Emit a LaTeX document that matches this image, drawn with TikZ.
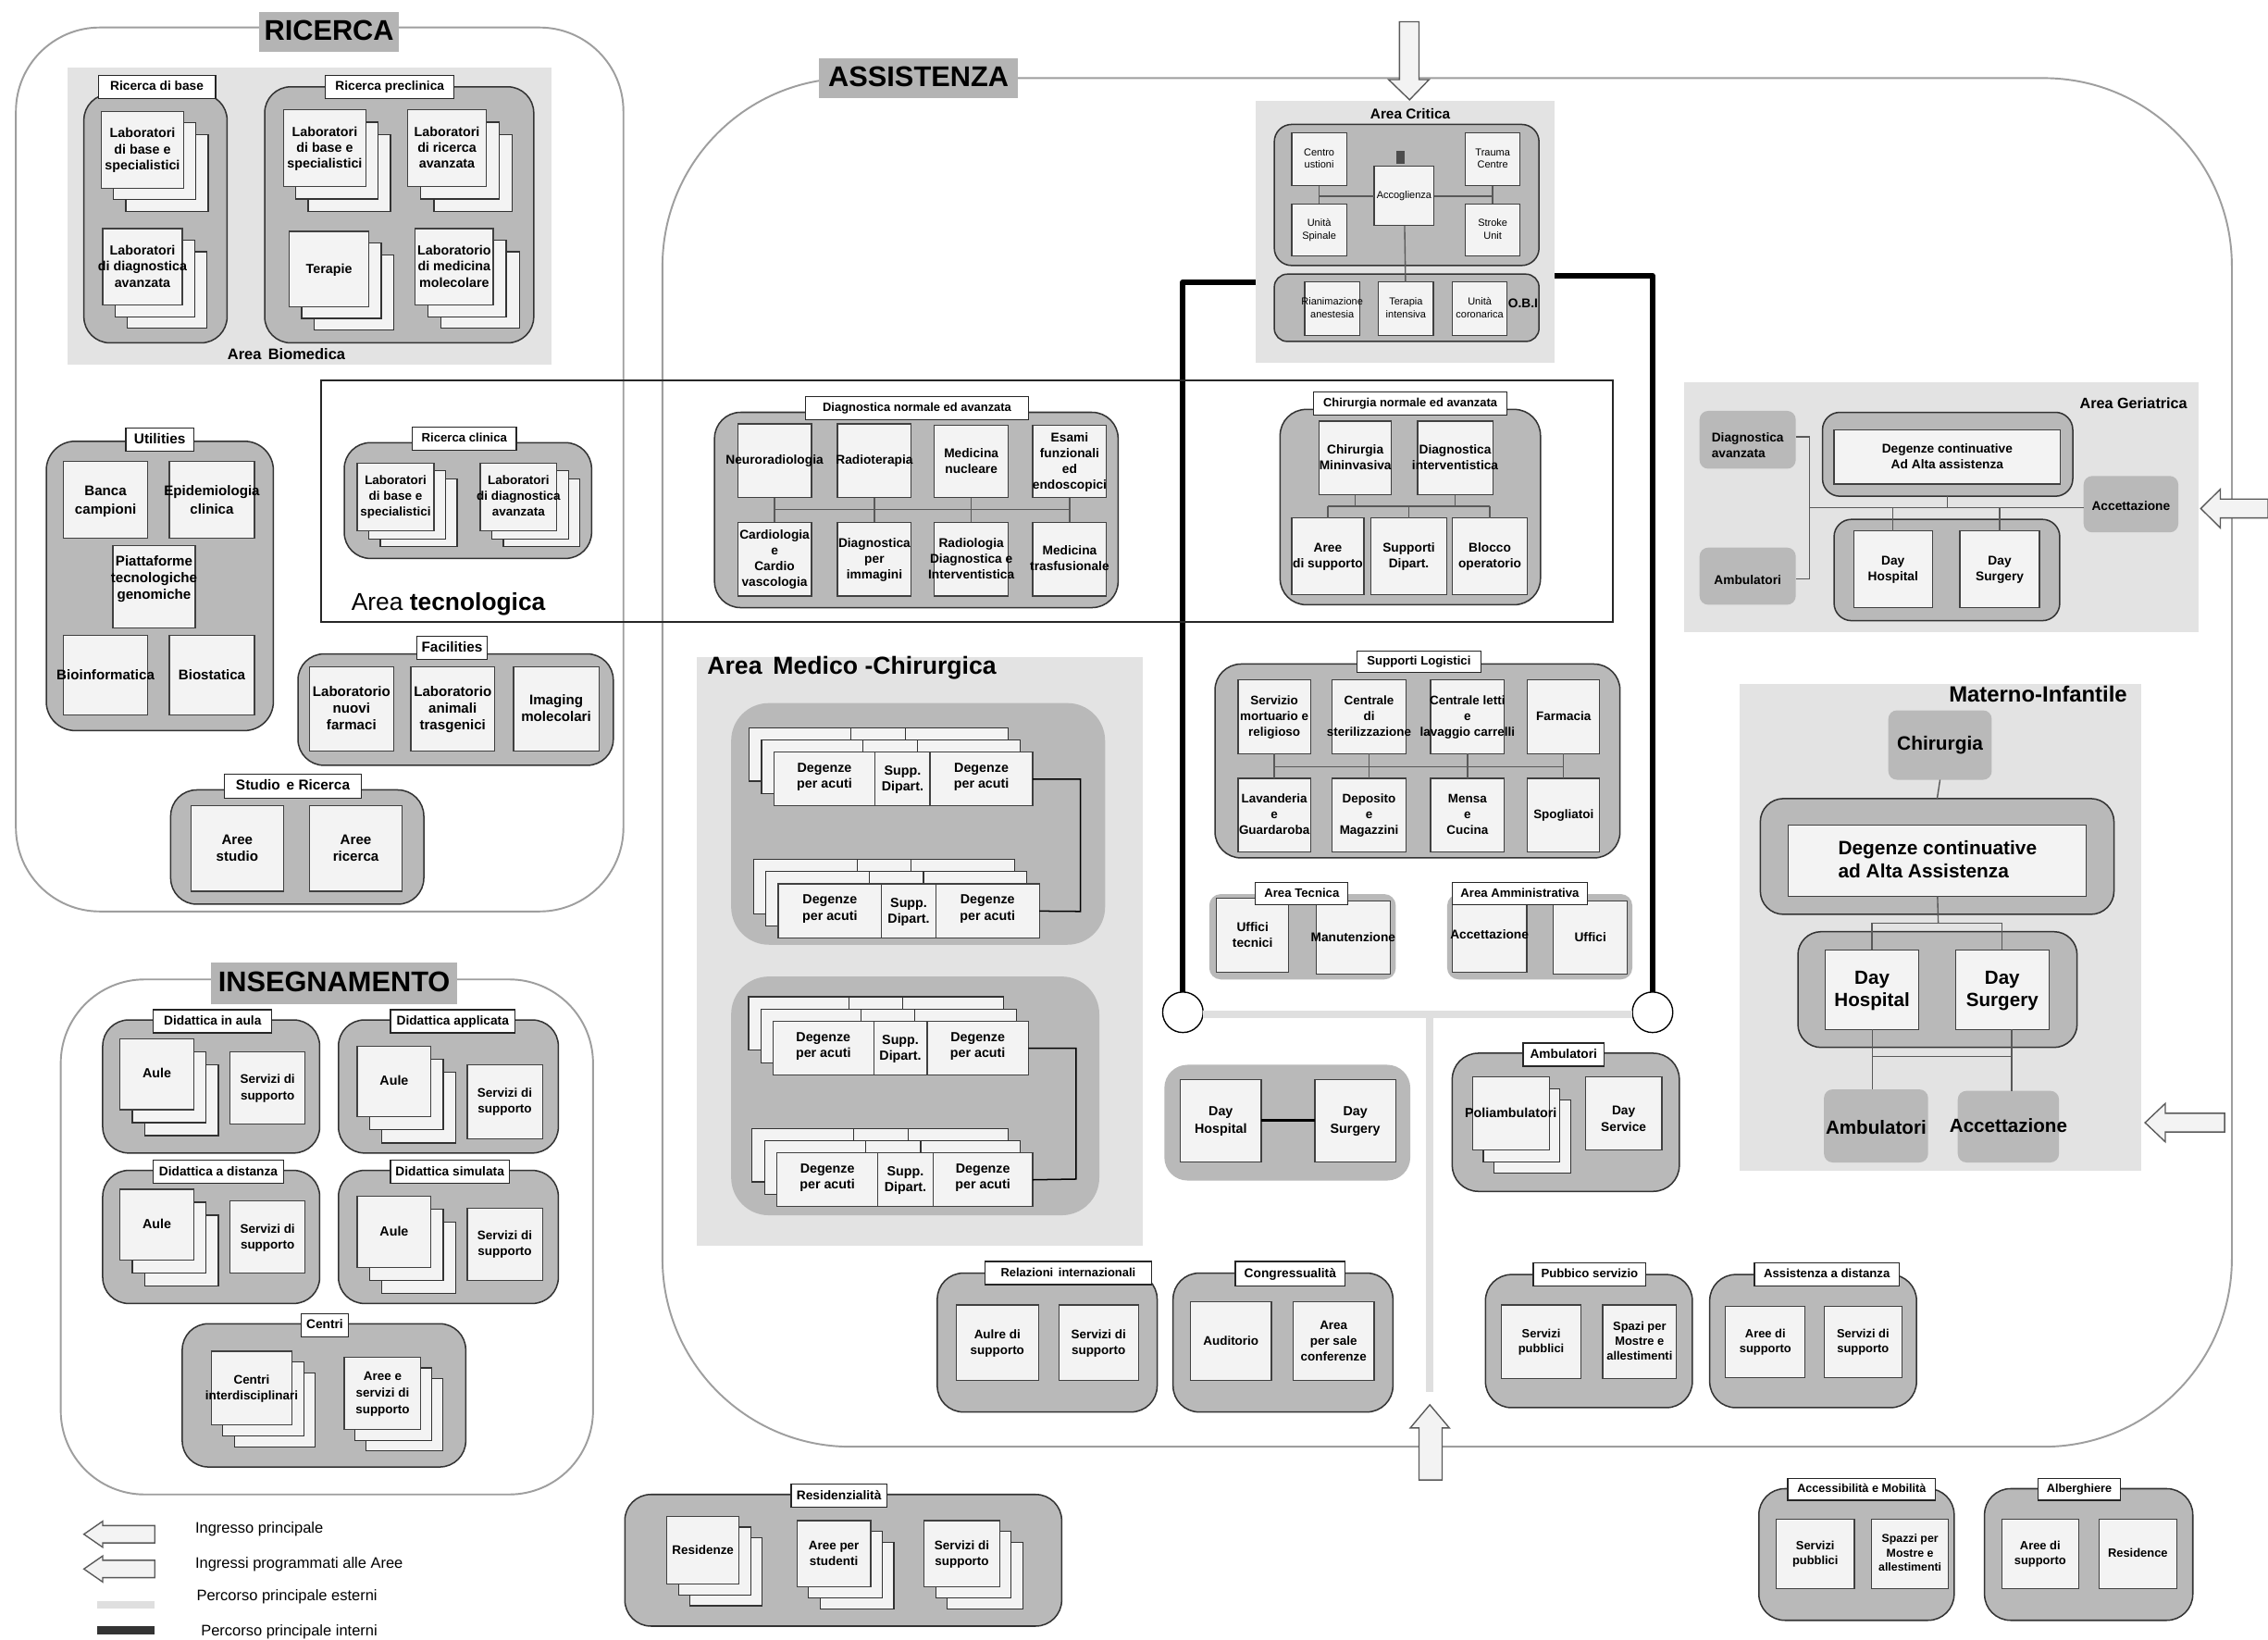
\documentclass[tikz,border=0pt]{standalone}
\usepackage{fontspec}
\setmainfont{Liberation Sans}
\definecolor{areac}{HTML}{E3E3E3}
\definecolor{grpc}{HTML}{B9B9B9}
\definecolor{boxc}{HTML}{F3F3F3}
\definecolor{titc}{HTML}{B4B4B4}
\definecolor{pathc}{HTML}{DFDFDF}
\newdimen\ux \ux=.569pt
\def\tdyv{0}
\newcommand\tl[1]{\raisebox{\dimexpr\tdyv\ux-.3em\relax}[0pt][0pt]{\makebox[0pt]{\begin{tabular}{@{}c@{}}#1\end{tabular}}}}
\newcommand\lf[1]{\begin{tabular}{@{}l@{}}#1\end{tabular}}
\tikzset{
 x=0.02cm,y=-0.02cm,
 tdy/.code={\def\tdyv{#1}},
 fz/.style 2 args={font=\fontsize{#1}{#2}\selectfont\bfseries},
 rg/.style={font=\fontsize{4}{5}\selectfont\mdseries},
 base/.style={inner sep=0pt,outer sep=0pt},
 rc/.style={rounded corners=#1*0.02cm},
 box/.style={base,draw=black!75,line width=.45pt,fill=boxc,fz={5.2}{6.3}},
 lbl/.style={base,draw=black!85,line width=.45pt,fill=white,fz={5}{6}},
 grp/.style={base,draw=black!80,line width=.55pt,fill=grpc,rc=18},
 grn/.style={base,fill=grpc,rc=16},
 areab/.style={base,fill=areac},
 titl/.style={base,fill=titc,fz={11.2}{13}},
 outer/.style={base,draw=black!38,line width=.7pt},
 back/.style={draw=black!80,line width=.45pt,fill=boxc},
 conn/.style={draw=black!65,line width=.5pt},
 intp/.style={draw=black,line width=2.1pt,line join=round},
 extp/.style={draw=pathc,line width=2.9pt},
 arrw/.style={draw=black!65,line width=.5pt,fill=boxc,line join=miter},
 free/.style={base,font=\fontsize{6}{7}\selectfont,anchor=west},
 circ/.style={base,circle,draw=black,line width=.5pt,fill=white,minimum size=.56cm},
}
\newcommand\nd[7][]{%
 \pgfmathsetmacro\ndw{(#5-#3)*0.02}\pgfmathsetmacro\ndh{(#6-#4)*0.02}%
 \node[minimum width=\ndw cm,minimum height=\ndh cm,#1] (#2) at ({(#3+#5)/2},{(#4+#6)/2}) {\tl{#7}};}
\newcommand\stk[9][]{%
 \draw[back] ({#3+2*#7},{#4+2*#8}) rectangle ({#5+2*#7},{#6+2*#8});
 \draw[back] ({#3+#7},{#4+#8}) rectangle ({#5+#7},{#6+#8});
 \nd[box,#1]{#2}{#3}{#4}{#5}{#6}{#9}}
\newcommand\bk[6]{% three cells behind
 \draw[back] (#1,#5) rectangle (#4,#6);
 \draw[back] (#2,#5) -- (#2,#6);
 \draw[back] (#3,#5) -- (#3,#6);}
\newcommand\rowd[7]{% name x0 x1 x2 x3 y1 y2
 \bk{#2-17}{#3-17}{#4-17}{#5-17}{#6-17}{#7-17}
 \bk{#2-8.5}{#3-8.5}{#4-8.5}{#5-8.5}{#6-8.5}{#7-8.5}
 \nd[box,tdy=2]{#1a}{#2}{#6}{#3}{#7}{Degenze\\per acuti}
 \nd[box]{#1b}{#3}{#6}{#4}{#7}{Supp.\\Dipart.}
 \nd[box,tdy=2]{#1c}{#4}{#6}{#5}{#7}{Degenze\\per acuti}}
\newcommand\arL[6]{\draw[arrw] (#1,#4) -- (#2,#4-#6) -- (#2,#4-#5) -- (#3,#4-#5) -- (#3,#4+#5) -- (#2,#4+#5) -- (#2,#4+#6) -- cycle;}
\begin{document}
\begin{tikzpicture}
\useasboundingbox (0,0) rectangle (1568,1133);
\fill[white] (0,0) rectangle (1568,1133);

% ---------- RICERCA
\nd[outer,rc=58]{ricOut}{11}{19}{431}{630}{}
\nd[titl]{ricT}{179}{8}{276}{36}{RICERCA}
\nd[areab]{bio}{47}{47}{381}{252}{}
\nd[grp]{rb}{58}{65}{157}{237}{}
\nd[lbl]{rbL}{68}{52}{149}{68}{Ricerca di base}
\stk{rb1}{70}{77}{127}{130}{8.5}{8}{Laboratori\\di base e\\specialistici}
\stk{rb2}{71}{158}{126}{211}{8.5}{8}{Laboratori\\di diagnostica\\avanzata}
\nd[grp]{rp}{183}{60}{369}{237}{}
\nd[lbl]{rpL}{225}{52}{314}{68}{Ricerca preclinica}
\stk{rp1}{196}{76}{253}{129}{8.5}{8.5}{Laboratori\\di base e\\specialistici}
\stk{rp2}{282}{76}{336}{129}{9}{8.5}{Laboratori\\di ricerca\\avanzata}
\stk{rp3}{200}{160}{255}{212}{8.5}{8}{Terapie}
\stk{rp4}{287}{158}{341}{211}{9}{8}{Laboratorio\\di medicina\\molecolare}
\node[base,fz={6}{7}] (bioT) at (198,245) {Area\, Biomedica};

% Utilities
\nd[grp,rc=20]{ut}{32}{305}{189}{505}{}
\nd[lbl,fz={5.6}{7}]{utL}{87}{296}{134}{312}{Utilities}
\nd[box,fz={5.5}{7.4}]{ut1}{44}{319}{102}{372}{Banca\\campioni}
\nd[box,fz={5.5}{7.4}]{ut2}{117}{319}{176}{372}{Epidemiologia\\clinica}
\nd[box,fz={5.5}{6.6},tdy=6]{ut3}{78}{377}{135}{434}{Piattaforme\\tecnologiche\\genomiche}
\nd[box,fz={5.5}{7.4}]{ut4}{44}{439}{102}{494}{Bioinformatica}
\nd[box,fz={5.5}{7.4}]{ut5}{117}{439}{176}{494}{Biostatica}

% Facilities
\nd[grp]{fa}{206}{452}{424}{529}{}
\nd[lbl,fz={5.6}{7}]{faL}{288}{440}{337}{456}{Facilities}
\nd[box,fz={5.5}{6.6}]{fa1}{214}{461}{272}{519}{Laboratorio\\nuovi\\farmaci}
\nd[box,fz={5.5}{6.6}]{fa2}{284}{461}{342}{519}{Laboratorio\\animali\\trasgenici}
\nd[box,fz={5.5}{6.6}]{fa3}{355}{461}{414}{519}{Imaging\\molecolari}

% Studio e Ricerca
\nd[grp]{sr}{118}{546}{293}{625}{}
\nd[lbl,fz={5.6}{7}]{srL}{155}{535}{250}{552}{Studio\, e Ricerca}
\nd[box,fz={5.5}{6.8}]{sr1}{132}{557}{196}{616}{Aree\\studio}
\nd[box,fz={5.5}{6.8}]{sr2}{214}{557}{278}{616}{Aree\\ricerca}

% ---------- INSEGNAMENTO
\nd[outer,rc=58]{insOut}{42}{677}{410}{1033}{}
\nd[titl]{insT}{146}{665}{316}{694}{INSEGNAMENTO}
\nd[grp]{d1}{71}{705}{221}{797}{}
\nd[lbl]{d1L}{106}{698}{188}{714}{Didattica in aula}
\stk{d1a}{83}{718}{134}{767}{8.5}{9}{Aule}
\nd[box,fz={4.9}{6.2}]{d1b}{159}{727}{211}{777}{Servizi di\\supporto}
\nd[grp]{d2}{234}{705}{386}{797}{}
\nd[lbl]{d2L}{270}{698}{356}{714}{Didattica applicata}
\stk{d2a}{247}{723}{298}{772}{8.5}{9}{Aule}
\nd[box,fz={4.9}{6.2}]{d2b}{323}{736}{375}{787}{Servizi di\\supporto}
\nd[grp]{d3}{71}{809}{221}{901}{}
\nd[lbl]{d3L}{106}{802}{196}{818}{Didattica a distanza}
\stk{d3a}{83}{822}{134}{871}{8.5}{9}{Aule}
\nd[box,fz={4.9}{6.2}]{d3b}{159}{830}{211}{880}{Servizi di\\supporto}
\nd[grp]{d4}{234}{809}{386}{901}{}
\nd[lbl]{d4L}{270}{802}{352}{818}{Didattica simulata}
\stk{d4a}{247}{827}{298}{876}{8.5}{9}{Aule}
\nd[box,fz={4.9}{6.2}]{d4b}{323}{835}{375}{885}{Servizi di\\supporto}
\nd[grp]{ce}{126}{915}{322}{1014}{}
\nd[lbl]{ceL}{208}{908}{241}{924}{Centri}
\stk[fz={4.9}{6.4}]{ce1}{146}{934}{202}{985}{8}{7.5}{Centri\\interdisciplinari}
\stk[fz={4.9}{6.4}]{ce2}{238}{938}{291}{988}{7.5}{7.5}{Aree e\\servizi di\\supporto}

% Legend
\arL{58}{71}{107}{1060.5}{6}{9}
\arL{58}{71}{107}{1084.5}{6}{9}
\node[free] (lg1) at (135,1057) {Ingresso principale};
\node[free] (lg2) at (135,1081) {Ingressi programmati alle Aree};
\node[free] (lg3) at (136,1104) {Percorso principale esterni};
\node[free] (lg4) at (139,1128) {Percorso principale interni};
\fill[pathc] (67,1107) rectangle (107,1112);
\fill[black!80] (67,1124) rectangle (107,1130);

% Residenzialita
\nd[grp]{re}{432}{1033}{734}{1124}{}
\nd[lbl]{reL}{547}{1026}{613}{1042}{Residenzialità}
\stk[fz={4.9}{6.4}]{re1}{461}{1048}{511}{1095}{8}{7.5}{Residenze}
\stk[fz={4.9}{6.4}]{re2}{551}{1051}{602}{1097}{8}{7.5}{Aree per\\studenti}
\stk[fz={4.9}{6.4}]{re3}{639}{1051}{691}{1097}{8}{7.5}{Servizi di\\supporto}

% ---------- ASSISTENZA
\nd[outer,rc=130]{assOut}{458}{54}{1543}{1000}{}
\nd[titl]{assT}{566}{40}{704}{68}{ASSISTENZA}

% paths
\node[circ] (c1) at (817.8,699.7) {};
\node[circ] (c2) at (1142.5,699.7) {};
\coordinate (cl) at (868,195);
\coordinate (cr) at (1075,190.5);
\coordinate (bj) at (988.5,701);
\coordinate (bb) at (988.5,962);
\draw[intp] (cl) -| (c1.north);
\draw[intp] (cr) -| (c2.north);
\draw[extp] (c1.east |- bj) -- (c2.west |- bj);
\draw[extp] (bj) -- (bb);

% Arrows
\draw[arrw] (974.5,69) -- (960,55) -- (967.5,55) -- (967.5,15) -- (981,15) -- (981,55) -- (988,55) -- cycle;
\draw[arrw] (988.5,971) -- (975,987) -- (981,987) -- (981,1023) -- (997,1023) -- (997,987) -- (1002,987) -- cycle;
\arL{1521.5}{1535}{1568}{351.5}{6.5}{13.3}
\arL{1483}{1497}{1538}{776}{6.5}{13.3}

% Area Critica
\nd[areab]{acB}{868}{70}{1075}{251}{}
\node[base,fz={5.6}{6.5}] (acT) at (975,79) {Area Critica};
\nd[grp,rc=12]{ac1}{881}{86}{1064}{183.5}{}
\nd[grp,rc=9]{ac2}{881}{189.5}{1064}{236}{}
\nd[box,rg]{cu}{893}{92}{931}{128.5}{Centro\\ustioni}
\nd[box,rg]{us}{893}{141}{931}{177}{Unità\\Spinale}
\nd[box,rg]{tc}{1013}{92}{1051}{128.5}{Trauma\\Centre}
\nd[box,rg]{su}{1013}{141}{1051}{177}{Stroke\\Unit}
\draw[conn] (cu) -- (us);
\draw[conn] (tc) -- (su);
\nd[box,rg]{ri}{902}{195}{940}{232}{Rianimazione\\anestesia}
\nd[box,rg]{ti}{953}{195}{991}{232}{Terapia\\intensiva}
\nd[box,rg]{uc}{1004}{195}{1042}{232}{Unità\\coronarica}
\nd[box,rg,tdy=0]{ac}{950}{115}{991.5}{156}{Accoglienza}
\draw[conn] (ac) -- (ti);
\draw[conn] (ac.west) -- (cu.south |- ac.west);
\draw[conn] (ac.east) -- (tc.south |- ac.east);
\fill[black!70] (965.5,104) rectangle (971,113);
\node[base,fz={5}{6}] (obi) at (1053,210) {O.B.I};

% Area tecnologica frame
\draw[draw=black!85,line width=.5pt] (222,263) rectangle (1115,430);
\node[base,anchor=west,font=\fontsize{9.6}{11}\selectfont] (atT) at (243,417.5) {Area \textbf{tecnologica}};

% Ricerca clinica
\nd[grp]{rc}{238}{306}{409}{386}{}
\nd[lbl,fz={4.8}{6}]{rcL}{285}{295}{357}{311}{Ricerca clinica}
\stk[fz={4.9}{6.2}]{rc1}{247}{320}{300}{367}{8}{5.5}{Laboratori\\di base e\\specialistici}
\stk[fz={4.9}{6.2}]{rc2}{332}{320}{385}{367}{8}{5.5}{Laboratori\\di diagnostica\\avanzata}

% Diagnostica
\nd[grp]{dg}{494}{285}{773}{420}{}
\nd[lbl,fz={4.7}{6}]{dgL}{557}{274}{711}{290}{Diagnostica normale ed avanzata}
\coordinate (dgb) at (535,352);
\nd[box,fz={5}{6.2}]{dg1}{510}{293}{561}{344}{Neuroradiologia}
\nd[box,fz={5}{6.2}]{dg2}{579}{293}{630}{344}{Radioterapia}
\nd[box,fz={5}{6.2}]{dg3}{646}{294}{697}{344}{Medicina\\nucleare}
\nd[box,fz={5}{6.2}]{dg4}{714}{294}{765}{344}{Esami\\funzionali\\ed\\endoscopici}
\nd[box,fz={5}{6.2}]{dg5}{510}{361}{561}{412}{Cardiologia\\e\\Cardio\\vascologia}
\nd[box,fz={5}{6.2}]{dg6}{579}{361}{630}{412}{Diagnostica\\per\\immagini}
\nd[box,fz={5}{6.2}]{dg7}{646}{361}{697}{412}{Radiologia\\Diagnostica e\\Interventistica}
\nd[box,fz={5}{6.2}]{dg8}{714}{361}{765}{412}{Medicina\\trasfusionale}
\draw[conn] (dg1) -- (dg5); \draw[conn] (dg2) -- (dg6); \draw[conn] (dg3) -- (dg7); \draw[conn] (dg4) -- (dg8);
\draw[conn] (dg1.south |- dgb) -- (dg4.south |- dgb);

% Chirurgia
\nd[grp]{ch}{885}{283}{1065}{418}{}
\nd[lbl,fz={4.7}{6}]{chL}{908}{271}{1042}{287}{Chirurgia normale ed avanzata}
\coordinate (chb) at (937,350);
\nd[box,fz={5}{6.2}]{ch1}{912}{291}{962}{342}{Chirurgia\\Mininvasiva}
\nd[box,fz={5}{6.2}]{ch2}{980}{291}{1032}{342}{Diagnostica\\interventistica}
\nd[box,fz={5}{6.2}]{ch3}{893}{358}{943}{411}{Aree\\di supporto}
\nd[box,fz={5}{6.2}]{ch4}{948}{358}{1000}{411}{Supporti\\Dipart.}
\nd[box,fz={5}{6.2}]{ch5}{1004}{358}{1056}{411}{Blocco\\operatorio}
\draw[conn] (ch1.south) -- (ch1.south |- chb);
\draw[conn] (ch2.south) -- (ch2.south |- chb);
\draw[conn] (ch3.north) -- (ch3.north |- chb);
\draw[conn] (ch4.north) -- (ch4.north |- chb);
\draw[conn] (ch5.north) -- (ch5.north |- chb);
\draw[conn] (ch3.north |- chb) -- (ch5.north |- chb);

% Supporti Logistici
\nd[grp]{sl}{840}{459}{1120}{593}{}
\nd[lbl,fz={4.8}{6}]{slL}{938}{450}{1024}{465}{Supporti Logistici}
\coordinate (slb) at (881,530);
\nd[box,fz={4.9}{6.2}]{sl1}{856}{470}{906}{521}{Servizio\\mortuario e\\religioso}
\nd[box,fz={4.9}{6.2}]{sl2}{921}{470}{972}{521}{Centrale\\di\\sterilizzazione}
\nd[box,fz={4.9}{6.2}]{sl3}{989}{470}{1040}{521}{Centrale letti\\e\\lavaggio carrelli}
\nd[box,fz={4.9}{6.2}]{sl4}{1056}{470}{1106}{521}{Farmacia}
\nd[box,fz={4.9}{6.2}]{sl5}{856}{538}{906}{589}{Lavanderia\\e\\Guardaroba}
\nd[box,fz={4.9}{6.2}]{sl6}{921}{538}{972}{589}{Deposito\\e\\Magazzini}
\nd[box,fz={4.9}{6.2}]{sl7}{989}{538}{1040}{589}{Mensa\\e\\Cucina}
\nd[box,fz={4.9}{6.2}]{sl8}{1056}{538}{1106}{589}{Spogliatoi}
\draw[conn] (sl1) -- (sl5); \draw[conn] (sl2) -- (sl6); \draw[conn] (sl3) -- (sl7); \draw[conn] (sl4) -- (sl8);
\draw[conn] (sl1.south |- slb) -- (sl4.south |- slb);

% Area Tecnica / Amministrativa
\nd[grn,rc=8]{at}{836}{618}{965}{677}{}
\nd[box,fz={5}{6.2}]{at1}{841}{621}{891}{672}{Uffici\\tecnici}
\nd[box,fz={5}{6.2}]{at2}{910}{623}{961}{673.5}{Manutenzione}
\nd[lbl,fz={4.8}{6}]{atL}{868}{610}{932}{625.5}{Area Tecnica}
\nd[grn,rc=8]{aa}{1000.5}{618}{1128.5}{677}{}
\nd[box,fz={5}{6.2}]{aa1}{1004}{621}{1055.5}{672}{Accettazione}
\nd[box,fz={5}{6.2}]{aa2}{1074}{623}{1125}{673.5}{Uffici}
\nd[lbl,fz={4.8}{6}]{aaL}{1004}{610}{1097.5}{625.5}{Area Amministrativa}

% Day
\nd[grn]{dy}{805}{736}{975}{816}{}
\nd[box,fz={5.2}{7}]{dy1}{816}{746}{872}{803}{Day\\Hospital}
\nd[box,fz={5.2}{7}]{dy2}{909}{746}{965}{803}{Day\\Surgery}
\draw[draw=black,line width=1.2pt] (dy1) -- (dy2);

% Ambulatori
\nd[grp]{am}{1004}{728}{1161}{823.5}{}
\nd[lbl]{amL}{1053}{721}{1109}{737}{Ambulatori}
\stk{am1}{1018}{744.5}{1071}{795}{7.5}{8}{Poliambulatori}
\nd[box,fz={5}{6.6},tdy=-4]{am2}{1096}{744.5}{1149}{795}{Day\\Service}

% Area Medico-Chirurgica
\nd[areab]{mc}{482}{454}{790}{861}{}
\node[base,anchor=west,fz={9.7}{11}] (mcT) at (489,461.5) {Area\, Medico -Chirurgica};
\nd[grn,rc=26]{mg1}{505.5}{486}{764}{653}{}
\rowd{r1}{535}{605}{643}{714}{520}{557}
\rowd{r2}{538}{609.5}{647}{718.5}{611}{648.5}
\draw[draw=black,line width=.55pt] (r1c.east) -| (747,630) -- (r2c.east);
\nd[grn,rc=26]{mg2}{505.5}{675}{760}{840}{}
\rowd{r3}{534.5}{604}{641}{711}{706}{743}
\rowd{r4}{537}{607}{645}{714}{797}{834}
\draw[draw=black,line width=.55pt] (r3c.east) -| (744,815) -- (r4c.east);

% Bottom groups
\nd[grp]{ri1}{648}{880}{800}{976}{}
\nd[lbl,fz={4.7}{6}]{ri1L}{681}{872}{796}{888}{Relazioni\, internazionali}
\nd[box,fz={4.9}{6.2}]{ri1a}{661}{902}{718}{954}{Aulre di\\supporto}
\nd[box,fz={4.9}{6.2}]{ri1b}{732}{902}{787}{954}{Servizi di\\supporto}
\nd[grp]{co}{811}{880}{963}{976}{}
\nd[lbl]{coL}{854}{872}{930}{889}{Congressualità}
\nd[box,fz={4.9}{6.2}]{co1}{823}{900}{879}{954}{Auditorio}
\nd[box,fz={4.9}{6.2}]{co2}{894}{900}{950}{954}{Area\\per sale\\conferenze}
\nd[grp]{ps}{1027}{881}{1170}{973}{}
\nd[lbl,fz={4.8}{6}]{psL}{1060}{873}{1138}{889}{Pubbico servizio}
\nd[box,fz={4.7}{5.8}]{ps1}{1038}{902}{1093}{953}{Servizi\\pubblici}
\nd[box,fz={4.7}{5.8}]{ps2}{1108}{902}{1159}{953}{Spazi per\\Mostre e\\allestimenti}
\nd[grp]{ad}{1182}{881}{1325}{973}{}
\nd[lbl,fz={4.8}{6}]{adL}{1213}{873}{1313}{889}{Assistenza a distanza}
\nd[box,fz={4.7}{5.8}]{ad1}{1193}{903}{1248}{952}{Aree di\\supporto}
\nd[box,fz={4.7}{5.8}]{ad2}{1261}{903}{1315}{952}{Servizi di\\supporto}
\nd[grp]{ac3}{1216}{1029}{1351}{1120}{}
\nd[lbl,fz={4.6}{6}]{ac3L}{1236}{1022}{1338}{1037}{Accessibilità e Mobilità}
\nd[box,fz={4.7}{5.8}]{ac3a}{1228}{1050}{1282}{1098}{Servizi\\pubblici}
\nd[box,fz={4.5}{5.6}]{ac3b}{1294}{1050}{1347}{1098}{Spazzi per\\Mostre e\\allestimenti}
\nd[grp]{al}{1372}{1029}{1516}{1120}{}
\nd[lbl,fz={4.6}{6}]{alL}{1409}{1022}{1466}{1037}{Alberghiere}
\nd[box,fz={4.7}{5.8}]{al1}{1384}{1050}{1437}{1098}{Aree di\\supporto}
\nd[box,fz={4.7}{5.8}]{al2}{1451}{1050}{1505}{1098}{Residence}

% Area Geriatrica
\nd[areab]{ge}{1164}{264.5}{1520}{437}{}
\node[base,fz={5.9}{7}] (geT) at (1475,278.5) {Area Geriatrica};
\coordinate (gej) at (1251,351);
\nd[grn,rc=6,fz={5}{6.2},tdy=-4]{ge1}{1175}{284}{1241.5}{324}{\lf{Diagnostica\\avanzata}}
\nd[grn,rc=6,fz={5}{6.2},tdy=-3]{ge2}{1175}{378.5}{1241.5}{418}{Ambulatori}
\nd[grn,rc=6,fz={5}{6.2},tdy=-2]{ge3}{1440.5}{329}{1506}{368}{Accettazione}
\nd[grp,rc=12]{ge4}{1260}{285}{1433}{343}{}
\nd[box,fz={5}{6.2}]{ge4a}{1268}{297}{1424.5}{334.5}{Degenze continuative\\Ad Alta assistenza}
\nd[grp,rc=12]{ge5}{1268}{359}{1424}{429}{}
\nd[box,fz={5}{6.2}]{ge5a}{1281.5}{367}{1336}{420}{Day\\Hospital}
\nd[box,fz={5}{6.2}]{ge5b}{1355}{367}{1410}{420}{Day\\Surgery}
\draw[conn] (ge1.east |- 0,302) -| (gej);
\draw[conn] (ge2.east |- 0,400) -| (gej);
\draw[conn] (gej) -- (gej -| ge3.west);
\draw[conn] (ge4.south) -- (gej -| ge4.south);
\draw[conn] (gej -| ge5a.north) -- (ge5a.north);
\draw[conn] (gej -| ge5b.north) -- (ge5b.north);

% Materno-Infantile
\nd[areab]{mi}{1203}{473}{1480.5}{809}{}
\node[base,fz={8.7}{10}] (miT) at (1409,480) {Materno-Infantile};
\coordinate (mij) at (1340,638);
\coordinate (mik) at (1340,730.3);
\nd[grn,rc=6,fz={7.6}{9}]{mi1}{1305.5}{491}{1377}{539}{Chirurgia}
\nd[grp,rc=16]{mi2}{1217}{552}{1461.5}{632}{}
\nd[box,fz={7.6}{9.1},tdy=0]{mi2a}{1236.5}{570.5}{1442.5}{619.5}{\lf{Degenze continuative\\ad Alta Assistenza}}
\nd[grp,rc=16]{mi3}{1243}{644}{1436}{724}{}
\nd[box,fz={7.5}{9}]{mi3a}{1262}{656.5}{1326.5}{711.5}{Day\\Hospital}
\nd[box,fz={7.5}{9}]{mi3b}{1352}{656.5}{1416.5}{711.5}{Day\\Surgery}
\nd[grn,rc=6,fz={7.5}{9},tdy=-2]{mi4}{1261}{753}{1333}{803.5}{Ambulatori}
\nd[grn,rc=6,fz={7.5}{9}]{mi5}{1353.5}{754}{1423.5}{803.5}{Accettazione}
\draw[conn] (mi1.south) -- (mi2.north);
\draw[conn] (mi2a.south) -- (mij);
\draw[conn] (mi3a.north) |- (mij);
\draw[conn] (mi3b.north) |- (mij);
\coordinate (mia) at (1294.5,730.3);
\coordinate (mib) at (1390.8,730.3);
\draw[conn] (mia |- mi3a.south) -- (mia |- mi4.north);
\draw[conn] (mib |- mi3b.south) -- (mib |- mi5.north);
\draw[conn] (mia) -- (mib);
\end{tikzpicture}
\end{document}
